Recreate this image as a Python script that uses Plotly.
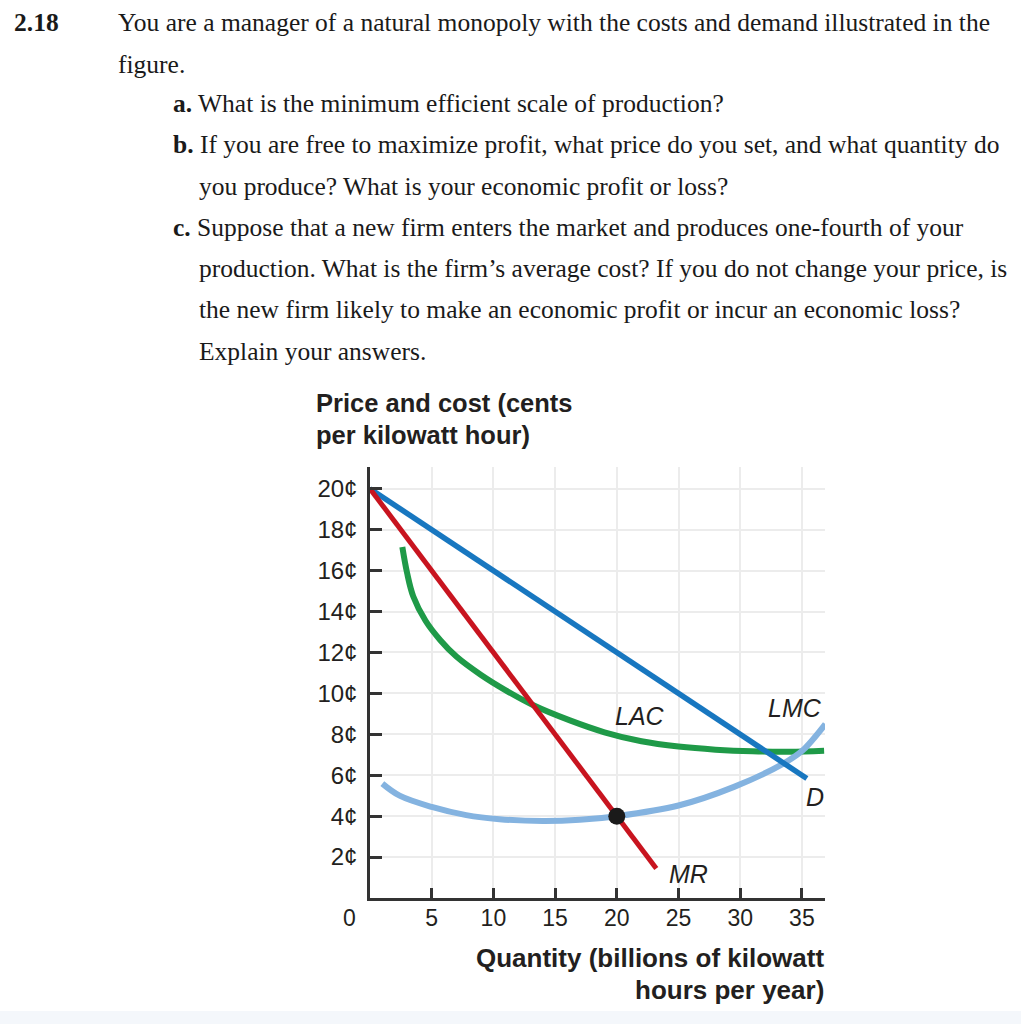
import plotly.graph_objects as go

# ---------------- data ----------------
demand_q = [0, 35.4]
demand_p = [20, 5.84]

mr_q = [0, 23.2]
mr_p = [20, 1.44]

lac_q = [2.62, 3.0, 3.5, 4.5, 5.7, 7.0, 9.0, 11.0, 13.24, 16.2, 19, 22, 25, 28, 31, 34, 36.8]
lac_p = [17.15, 15.9, 14.75, 13.55, 12.6, 11.8, 10.9, 10.15, 9.42, 8.68, 8.1, 7.66, 7.4, 7.25, 7.17, 7.15, 7.2]

lmc_q = [1.0, 2.4, 5, 7.8, 10.5, 14, 17, 20, 25, 29.5, 33.5, 35, 36.9]
lmc_p = [5.59, 5.0, 4.45, 4.05, 3.85, 3.76, 3.82, 4.0, 4.52, 5.43, 6.57, 7.18, 8.5]

profit_max_q = [20]
profit_max_p = [4]

x_tickvals = [5, 10, 15, 20, 25, 30, 35]
x_ticktext = [str(v) for v in x_tickvals]
y_tickvals = [2, 4, 6, 8, 10, 12, 14, 16, 18, 20]
y_ticktext = [f"{v}¢" for v in y_tickvals]

curve_labels = ["<i>LAC</i>", "<i>LMC</i>", "<i>D</i>", "<i>MR</i>"]

question_lines = [
    "<b>2.18</b>",
    "You are a manager of a natural monopoly with the costs and demand illustrated in the",
    "figure.",
    "<b>a.</b> What is the minimum efficient scale of production?",
    "<b>b.</b> If you are free to maximize profit, what price do you set, and what quantity do",
    "you produce? What is your economic profit or loss?",
    "<b>c.</b> Suppose that a new firm enters the market and produces one-fourth of your",
    "production. What is the firm’s average cost? If you do not change your price, is",
    "the new firm likely to make an economic profit or incur an economic loss?",
    "Explain your answers.",
]

y_title_lines = ["<b>Price and cost (cents</b>", "<b>per kilowatt hour)</b>"]
x_title_lines = ["<b>Quantity (billions of kilowatt</b>", "<b>hours per year)</b>"]

# ---------------- layout geometry (pixels) ----------------
W, H = 1021, 1024
L, R, T, B = 370, 825, 467, 898
PW, PH = R - L, B - T


def pp(x, y):
    return (x - L) / PW, (B - y) / PH


SANS = "Liberation Sans, Arial, sans-serif"
SERIF = "Liberation Serif, Times New Roman, serif"
TXT = "#231f20"

fig = go.Figure()

fig.add_trace(go.Scatter(x=lac_q, y=lac_p, mode="lines", line=dict(color="#1f9a48", width=6, shape="spline"),
                         hoverinfo="skip", showlegend=False))
fig.add_trace(go.Scatter(x=lmc_q, y=lmc_p, mode="lines", line=dict(color="#84b3e0", width=6, shape="spline"),
                         hoverinfo="skip", showlegend=False))
fig.add_trace(go.Scatter(x=demand_q, y=demand_p, mode="lines", line=dict(color="#1877c0", width=5.5),
                         hoverinfo="skip", showlegend=False))
fig.add_trace(go.Scatter(x=mr_q, y=mr_p, mode="lines", line=dict(color="#c8141f", width=5),
                         hoverinfo="skip", showlegend=False))
fig.add_trace(go.Scatter(x=profit_max_q, y=profit_max_p, mode="markers",
                         marker=dict(color="#1a1a1a", size=17), hoverinfo="skip", showlegend=False))

annotations = []
# curve labels (data coords)
label_pos = [(21.9, 8.88), (34.4, 9.27), (36.1, 4.93), (25.8, 1.17)]
for txt, (qx, py) in zip(curve_labels, label_pos):
    annotations.append(dict(x=qx, y=py, xref="x", yref="y", text=txt, showarrow=False,
                            xanchor="center", yanchor="middle",
                            font=dict(family=SANS, size=25, color=TXT)))

# origin label
ox, oy = pp(349, 918)
annotations.append(dict(x=ox, y=oy, xref="paper", yref="paper", text="0", showarrow=False,
                        xanchor="center", yanchor="middle",
                        font=dict(family=SANS, size=23, color=TXT)))

# axis titles
for i, t in enumerate(y_title_lines):
    ax_, ay_ = pp(314, 403 + 32 * i)
    annotations.append(dict(x=ax_, y=ay_, xref="paper", yref="paper", text=t, showarrow=False,
                            xanchor="left", yanchor="middle", font=dict(family=SANS, size=25.5, color=TXT)))
for i, t in enumerate(x_title_lines):
    ax_, ay_ = pp(826, 958 + 32 * i)
    annotations.append(dict(x=ax_, y=ay_, xref="paper", yref="paper", text=t, showarrow=False,
                            xanchor="right", yanchor="middle", font=dict(family=SANS, size=26, color=TXT)))

# question text
q_pos = [(12, 22), (116, 22), (116, 64), (171, 103), (171, 145), (197, 186), (171, 227), (197, 268),
         (197, 309), (197, 351)]
for t, (qx, qy) in zip(question_lines, q_pos):
    ax_, ay_ = pp(qx, qy)
    annotations.append(dict(x=ax_, y=ay_, xref="paper", yref="paper", text=t, showarrow=False,
                            xanchor="left", yanchor="middle", font=dict(family=SERIF, size=25.5, color="#1a1a1a")))

shapes = []
sx0, sy0 = pp(0, 1011)
sx1, sy1 = pp(W, H)
shapes.append(dict(type="rect", xref="paper", yref="paper", x0=sx0, x1=sx1, y0=sy1, y1=sy0,
                   fillcolor="#f4f7fb", line=dict(width=0), layer="below"))

fig.update_layout(
    width=W, height=H,
    margin=dict(l=L, r=W - R, t=T, b=H - B, pad=0),
    paper_bgcolor="white", plot_bgcolor="white",
    annotations=annotations, shapes=shapes,
    xaxis=dict(range=[0, PW / 12.34], tickvals=x_tickvals, ticktext=x_ticktext,
               ticks="inside", ticklen=10, tickwidth=2.5, tickcolor="#333",
               showline=True, linecolor="#333", linewidth=2.5,
               showgrid=True, gridcolor="#ececec", gridwidth=2, zeroline=False,
               tickfont=dict(family=SANS, size=23, color=TXT), ticklabelstandoff=-2, fixedrange=True),
    yaxis=dict(range=[0, PH / 20.46], tickvals=y_tickvals, ticktext=y_ticktext,
               ticks="inside", ticklen=12, tickwidth=2.5, tickcolor="#333",
               showline=True, linecolor="#333", linewidth=2.5,
               showgrid=True, gridcolor="#ececec", gridwidth=2, zeroline=False,
               tickfont=dict(family=SANS, size=24, color=TXT), ticklabelstandoff=5, fixedrange=True),
)

fig.write_html("out.html")
